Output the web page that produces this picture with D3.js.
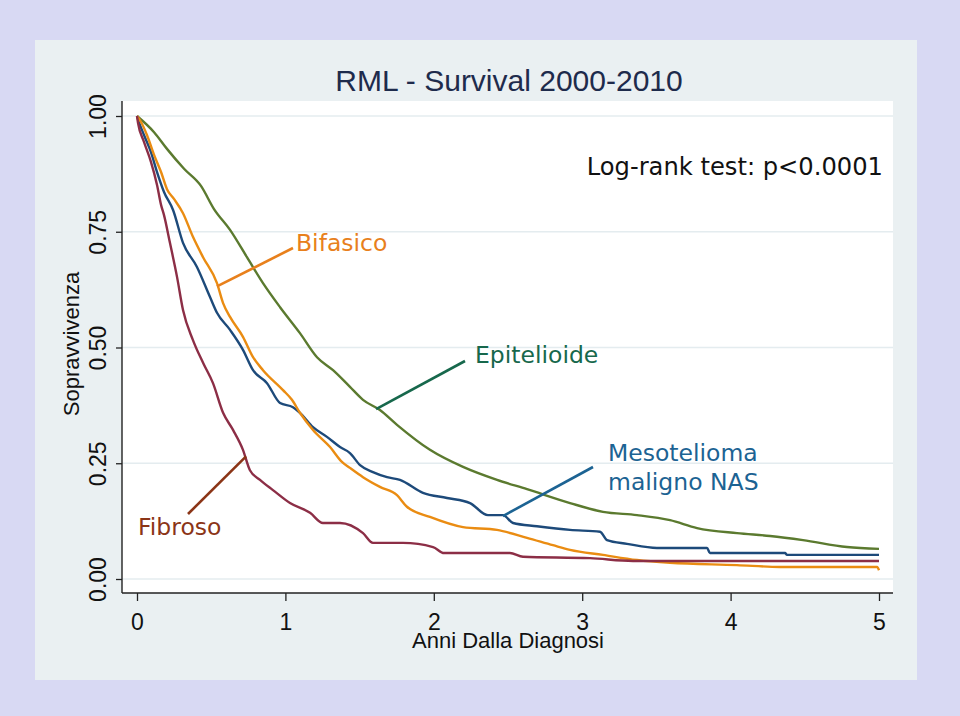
<!DOCTYPE html>
<html>
<head>
<meta charset="utf-8">
<script src="https://cdn.jsdelivr.net/npm/d3@7"></script>
<style>
  html, body { margin: 0; padding: 0; background: #d8d9f3; }
  svg { display: block; }
</style>
</head>
<body>
<svg id="chart" width="960" height="716"></svg>
<script>
// ---------- data (years since diagnosis, survival proportion) ----------
const titleText = "RML - Survival 2000-2010";
const xTicks = [0, 1, 2, 3, 4, 5];
const yTicks = [0, 0.25, 0.5, 0.75, 1];

const epiT = [0, 0.115, 0.202, 0.317, 0.431, 0.519, 0.627, 0.741, 0.849, 0.964, 1.098, 1.213, 1.321, 1.435, 1.523, 1.637, 1.752, 1.974, 2.197, 2.426, 2.628, 2.918, 3.140, 3.369, 3.592, 3.774, 4.043, 4.266, 4.488, 4.784, 5.0];
const epiS = [1.0, 0.965, 0.929, 0.886, 0.849, 0.799, 0.754, 0.695, 0.639, 0.587, 0.531, 0.479, 0.451, 0.415, 0.387, 0.365, 0.333, 0.279, 0.242, 0.214, 0.194, 0.164, 0.145, 0.138, 0.127, 0.110, 0.099, 0.093, 0.084, 0.069, 0.065];

const nasT = [0, 0.013, 0.047, 0.094, 0.135, 0.182, 0.243, 0.310, 0.404, 0.492, 0.539, 0.627, 0.714, 0.782, 0.876, 0.964, 1.051, 1.098, 1.186, 1.280, 1.368, 1.435, 1.503, 1.590, 1.685, 1.772, 1.927, 2.089, 2.244, 2.365, 2.466, 2.534, 2.695, 2.918, 3.120, 3.167, 3.302, 3.504, 3.841, 3.861, 4.367, 4.380, 5.0];
const nasS = [1.0, 0.987, 0.959, 0.922, 0.879, 0.836, 0.797, 0.726, 0.674, 0.609, 0.575, 0.538, 0.495, 0.451, 0.423, 0.380, 0.371, 0.359, 0.328, 0.307, 0.285, 0.272, 0.246, 0.231, 0.220, 0.214, 0.186, 0.175, 0.164, 0.138, 0.138, 0.121, 0.114, 0.106, 0.102, 0.084, 0.076, 0.067, 0.067, 0.056, 0.056, 0.052, 0.052];

const bifT = [0, 0.027, 0.067, 0.115, 0.162, 0.202, 0.249, 0.310, 0.377, 0.445, 0.539, 0.580, 0.627, 0.714, 0.782, 0.849, 0.984, 1.044, 1.098, 1.186, 1.301, 1.381, 1.435, 1.523, 1.637, 1.752, 1.819, 1.974, 2.197, 2.426, 2.628, 2.803, 2.918, 3.140, 3.369, 3.592, 4.043, 4.333, 4.987, 5.0];
const bifS = [1.0, 0.987, 0.959, 0.916, 0.879, 0.842, 0.821, 0.790, 0.739, 0.695, 0.639, 0.596, 0.566, 0.523, 0.479, 0.451, 0.408, 0.387, 0.359, 0.322, 0.285, 0.253, 0.240, 0.220, 0.199, 0.181, 0.156, 0.134, 0.112, 0.106, 0.089, 0.073, 0.063, 0.052, 0.041, 0.035, 0.030, 0.026, 0.026, 0.019];

const fibT = [0, 0.007, 0.047, 0.094, 0.135, 0.162, 0.182, 0.222, 0.270, 0.310, 0.377, 0.445, 0.512, 0.580, 0.647, 0.714, 0.761, 0.829, 0.916, 1.031, 1.166, 1.253, 1.368, 1.523, 1.590, 1.792, 1.995, 2.069, 2.513, 2.601, 3.053, 3.342, 5.0];
const fibS = [1.0, 0.985, 0.944, 0.901, 0.851, 0.808, 0.786, 0.726, 0.652, 0.581, 0.516, 0.467, 0.423, 0.359, 0.322, 0.279, 0.235, 0.214, 0.192, 0.164, 0.143, 0.121, 0.121, 0.099, 0.078, 0.078, 0.069, 0.056, 0.056, 0.048, 0.045, 0.039, 0.039];

// label texts and where on the curve each leader line points (data units)
const labelNames = ["Bifasico", "Epitelioide", "Mesotelioma|maligno NAS", "Fibroso"];
const pointerT = [0.539, 1.611, 2.466, 0.735];
const pointerS = [0.632, 0.367, 0.136, 0.265];

// ---------- layout ----------
const svg = d3.select("#chart");
const W = 960, H = 716;
const panel = { x: 35, y: 40, w: 882, h: 640 };
const plot = { left: 122, right: 893, top: 101, bottom: 593 };

const x = d3.scaleLinear().domain([0, 5]).range([137, 879]);
const y = d3.scaleLinear().domain([0, 1]).range([579, 116]);

svg.append("rect").attr("width", W).attr("height", H).attr("fill", "#d8d9f3");
svg.append("rect").attr("x", panel.x).attr("y", panel.y).attr("width", panel.w).attr("height", panel.h).attr("fill", "#eaf0f2");
svg.append("rect").attr("x", plot.left).attr("y", plot.top)
  .attr("width", plot.right - plot.left).attr("height", plot.bottom - plot.top).attr("fill", "#ffffff");

// gridlines
svg.append("g").selectAll("line").data(yTicks).join("line")
  .attr("x1", plot.left).attr("x2", plot.right)
  .attr("y1", d => y(d)).attr("y2", d => y(d))
  .attr("stroke", "#e4ecef").attr("stroke-width", 1.4);

// axes
const fontAxis = "'Liberation Sans', Arial, sans-serif";
const gx = svg.append("g").attr("transform", `translate(0,${plot.bottom})`)
  .call(d3.axisBottom(x).tickValues(xTicks).tickSize(8).tickFormat(d3.format("d")));
gx.select(".domain").remove();
gx.selectAll(".tick line").attr("stroke", "#222").attr("stroke-width", 1.3);
gx.selectAll(".tick text").attr("font-family", fontAxis).attr("font-size", 23).attr("fill", "#111")
  .attr("y", 37).attr("dy", 0);

const gy = svg.append("g").attr("transform", `translate(${plot.left},0)`)
  .call(d3.axisLeft(y).tickValues(yTicks).tickSize(6).tickFormat(d3.format(".2f")));
gy.select(".domain").remove();
gy.selectAll(".tick line").attr("stroke", "#222").attr("stroke-width", 1.3);
gy.selectAll(".tick text")
  .attr("font-family", fontAxis).attr("font-size", 23).attr("fill", "#111")
  .attr("transform", "rotate(-90)").attr("x", 0).attr("y", -16).attr("dy", 0)
  .attr("text-anchor", "middle");

svg.append("line").attr("x1", plot.left).attr("x2", plot.right)
  .attr("y1", plot.bottom).attr("y2", plot.bottom).attr("stroke", "#222").attr("stroke-width", 1.4);
svg.append("line").attr("x1", plot.left).attr("x2", plot.left)
  .attr("y1", plot.top).attr("y2", plot.bottom).attr("stroke", "#222").attr("stroke-width", 1.4);

// axis titles and title
svg.append("text").attr("x", 508).attr("y", 648).attr("text-anchor", "middle")
  .attr("font-family", fontAxis).attr("font-size", 22).attr("fill", "#111").text("Anni Dalla Diagnosi");
svg.append("text").attr("transform", "translate(79,344) rotate(-90)").attr("text-anchor", "middle")
  .attr("font-family", fontAxis).attr("font-size", 22).attr("fill", "#111").text("Sopravvivenza");
svg.append("text").attr("x", 509).attr("y", 91).attr("text-anchor", "middle")
  .attr("font-family", fontAxis).attr("font-size", 30).attr("fill", "#1e2b4c").text(titleText);

// curves
const series = [
  { t: epiT, s: epiS, color: "#5b7a2f" },
  { t: nasT, s: nasS, color: "#1d4a7a" },
  { t: bifT, s: bifS, color: "#ea8c12" },
  { t: fibT, s: fibS, color: "#8c2e46" }
];
const line = d3.line().x(d => x(d[0])).y(d => y(d[1])).curve(d3.curveMonotoneX);
svg.append("g").selectAll("path").data(series).join("path")
  .attr("d", d => line(d.t.map((t, i) => [t, d.s[i]])))
  .attr("fill", "none").attr("stroke", d => d.color).attr("stroke-width", 2.4)
  .attr("stroke-linejoin", "round");

// labels with leader lines
const fontLab = "'DejaVu Sans', Verdana, sans-serif";
const labColors = ["#e8801c", "#17684c", "#1c6393", "#8b3517"];
const labPos = [[296, 251], [475, 363], [608, 461], [138, 535]];
const leadFrom = [[293, 248], [465, 361], [593, 467], [188, 514]];
labelNames.forEach((name, i) => {
  svg.append("line")
    .attr("x1", leadFrom[i][0]).attr("y1", leadFrom[i][1])
    .attr("x2", x(pointerT[i])).attr("y2", y(pointerS[i]))
    .attr("stroke", labColors[i]).attr("stroke-width", 2.6);
  const txt = svg.append("text").attr("x", labPos[i][0]).attr("y", labPos[i][1])
    .attr("font-family", fontLab).attr("font-size", 23.5).attr("fill", labColors[i]);
  name.split("|").forEach((part, k) => {
    txt.append("tspan").attr("x", labPos[i][0]).attr("dy", k === 0 ? 0 : 28.5).text(part);
  });
});

svg.append("text").attr("x", 883).attr("y", 175).attr("text-anchor", "end")
  .attr("font-family", fontLab).attr("font-size", 24.2).attr("fill", "#111").text("Log-rank test: p<0.0001");
</script>
</body>
</html>
